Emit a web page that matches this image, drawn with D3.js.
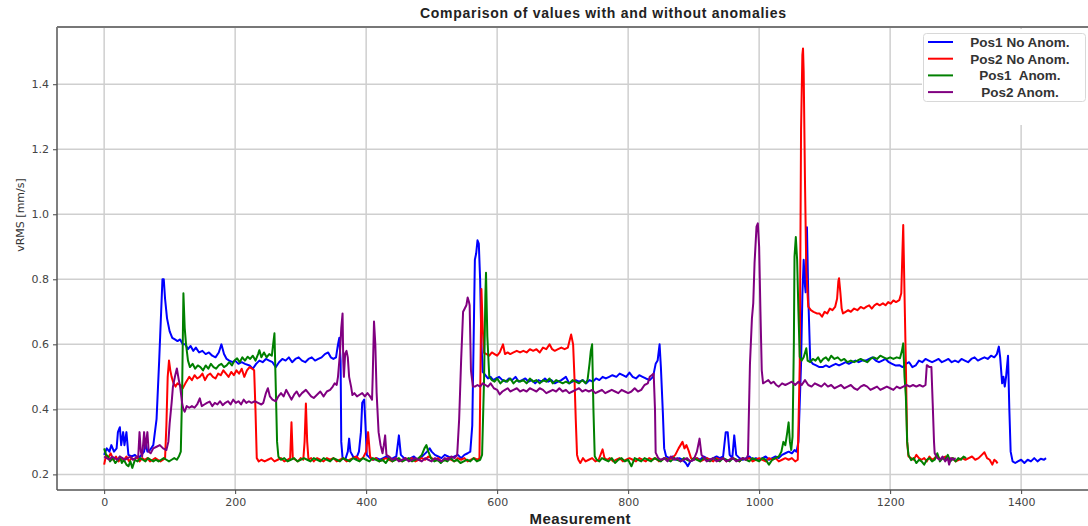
<!DOCTYPE html>
<html>
<head>
<meta charset="utf-8">
<script src="https://cdn.jsdelivr.net/npm/d3@7"></script>
<style>
  body { margin: 0; background: #fff; }
  svg { display: block; }
  .tick text { font-family: "DejaVu Sans", sans-serif; font-size: 11px; fill: #444; }
  .tick line { stroke: #444; }
  .domain { display: none; }
</style>
</head>
<body>
<div id="chart"></div>
<script>
const pos1NoAnom = [[0,0.26],[4,0.28],[8,0.27],[11,0.29],[15,0.27],[19,0.28],[21,0.33],[24,0.345],[26,0.29],[29,0.33],[31,0.29],[34,0.33],[37,0.26],[42,0.255],[47,0.26],[52,0.25],[57,0.26],[61,0.27],[63,0.3],[66,0.27],[70,0.275],[75,0.29],[80,0.37],[84,0.55],[87,0.7],[89,0.8],[91,0.8],[93,0.74],[96,0.68],[100,0.64],[104,0.62],[108,0.615],[112,0.61],[116,0.615],[120,0.6],[124,0.6],[128,0.585],[132,0.595],[136,0.58],[140,0.59],[145,0.575],[150,0.58],[155,0.57],[160,0.575],[165,0.565],[170,0.56],[175,0.575],[179,0.6],[183,0.57],[187,0.555],[191,0.55],[196,0.545],[200,0.55],[205,0.54],[210,0.545],[215,0.54],[222,0.535],[227,0.525],[232,0.54],[237,0.55],[242,0.545],[247,0.555],[252,0.55],[257,0.545],[262,0.53],[267,0.545],[272,0.555],[277,0.55],[282,0.56],[287,0.545],[292,0.555],[297,0.56],[302,0.55],[307,0.545],[312,0.555],[317,0.56],[322,0.55],[327,0.555],[332,0.56],[337,0.57],[342,0.575],[346,0.56],[350,0.555],[354,0.56],[357,0.6],[359,0.62],[361,0.55],[362,0.3],[364,0.25],[368,0.245],[372,0.27],[374,0.31],[376,0.27],[380,0.255],[385,0.25],[389,0.27],[392,0.33],[394,0.42],[397,0.43],[399,0.35],[401,0.26],[406,0.25],[411,0.245],[416,0.25],[421,0.245],[426,0.25],[431,0.255],[436,0.245],[441,0.25],[446,0.255],[450,0.32],[453,0.26],[458,0.25],[463,0.245],[468,0.25],[473,0.255],[478,0.245],[483,0.25],[488,0.26],[493,0.27],[497,0.28],[500,0.27],[505,0.26],[510,0.255],[515,0.25],[520,0.26],[525,0.255],[530,0.25],[535,0.255],[540,0.26],[545,0.25],[550,0.26],[555,0.265],[559,0.27],[562,0.35],[564,0.6],[566,0.86],[568,0.88],[570,0.92],[572,0.91],[574,0.8],[576,0.6],[578,0.515],[582,0.505],[586,0.495],[590,0.5],[594,0.49],[598,0.495],[603,0.5],[608,0.49],[613,0.485],[618,0.495],[623,0.49],[628,0.5],[633,0.485],[638,0.49],[643,0.495],[648,0.485],[653,0.49],[658,0.48],[663,0.49],[668,0.485],[673,0.495],[678,0.485],[683,0.49],[688,0.48],[693,0.485],[698,0.49],[705,0.5],[710,0.48],[715,0.485],[720,0.49],[725,0.485],[731,0.49],[736,0.48],[741,0.49],[746,0.485],[751,0.495],[756,0.49],[761,0.5],[766,0.495],[771,0.5],[776,0.505],[782,0.5],[787,0.51],[792,0.505],[797,0.5],[802,0.513],[807,0.5],[812,0.495],[817,0.505],[822,0.5],[827,0.495],[833,0.49],[838,0.5],[842,0.54],[845,0.55],[848,0.6],[850,0.53],[853,0.39],[855,0.28],[858,0.255],[863,0.25],[868,0.255],[873,0.245],[878,0.25],[883,0.245],[888,0.235],[891,0.225],[895,0.24],[900,0.245],[905,0.25],[910,0.245],[915,0.255],[920,0.25],[925,0.245],[930,0.25],[935,0.255],[940,0.25],[945,0.255],[949,0.33],[952,0.33],[955,0.26],[959,0.25],[962,0.32],[965,0.26],[970,0.25],[975,0.245],[980,0.25],[985,0.255],[990,0.245],[995,0.25],[1000,0.245],[1005,0.25],[1010,0.255],[1015,0.245],[1020,0.25],[1025,0.255],[1030,0.25],[1035,0.26],[1040,0.265],[1045,0.27],[1050,0.265],[1054,0.275],[1057,0.27],[1060,0.3],[1064,0.54],[1066,0.75],[1068,0.86],[1070,0.78],[1071,0.76],[1073,0.96],[1075,0.75],[1078,0.55],[1082,0.54],[1087,0.535],[1092,0.53],[1097,0.53],[1102,0.535],[1107,0.53],[1112,0.535],[1117,0.54],[1122,0.535],[1127,0.54],[1132,0.545],[1137,0.54],[1142,0.545],[1147,0.55],[1152,0.545],[1157,0.55],[1163,0.55],[1168,0.555],[1173,0.56],[1178,0.55],[1183,0.545],[1188,0.55],[1193,0.555],[1198,0.545],[1203,0.54],[1208,0.535],[1214,0.536],[1219,0.53],[1224,0.54],[1229,0.545],[1234,0.53],[1239,0.535],[1244,0.55],[1249,0.545],[1254,0.555],[1259,0.55],[1264,0.545],[1269,0.55],[1274,0.555],[1279,0.545],[1284,0.55],[1289,0.555],[1294,0.545],[1299,0.55],[1304,0.545],[1309,0.555],[1314,0.55],[1319,0.545],[1324,0.555],[1329,0.56],[1334,0.55],[1339,0.555],[1344,0.56],[1349,0.555],[1354,0.565],[1359,0.56],[1363,0.57],[1366,0.593],[1368,0.56],[1371,0.48],[1373,0.5],[1375,0.47],[1377,0.5],[1380,0.565],[1382,0.4],[1384,0.27],[1387,0.24],[1391,0.235],[1395,0.24],[1400,0.245],[1405,0.235],[1410,0.245],[1415,0.24],[1420,0.25],[1425,0.24],[1430,0.248],[1435,0.245],[1438,0.25]];

const pos2NoAnom = [[0,0.23],[3,0.26],[6,0.25],[10,0.265],[14,0.245],[18,0.255],[22,0.24],[26,0.25],[30,0.245],[34,0.255],[38,0.24],[42,0.25],[46,0.245],[50,0.255],[54,0.24],[58,0.25],[62,0.245],[66,0.25],[70,0.24],[74,0.245],[78,0.25],[82,0.245],[86,0.24],[90,0.245],[93,0.25],[95,0.35],[97,0.5],[99,0.55],[101,0.52],[103,0.5],[106,0.48],[109,0.47],[112,0.48],[116,0.475],[120,0.465],[124,0.48],[127,0.49],[130,0.5],[134,0.49],[138,0.505],[142,0.495],[146,0.5],[150,0.51],[154,0.49],[158,0.505],[162,0.51],[166,0.5],[170,0.495],[174,0.51],[178,0.505],[182,0.52],[186,0.51],[190,0.5],[194,0.515],[198,0.505],[202,0.52],[206,0.51],[210,0.525],[214,0.5],[218,0.52],[222,0.53],[226,0.525],[229,0.52],[231,0.4],[233,0.25],[236,0.24],[240,0.245],[245,0.24],[250,0.245],[255,0.25],[260,0.24],[265,0.245],[270,0.25],[275,0.24],[280,0.245],[284,0.25],[286,0.36],[288,0.25],[292,0.245],[296,0.24],[300,0.25],[304,0.245],[306,0.3],[308,0.418],[310,0.3],[312,0.245],[316,0.25],[320,0.24],[325,0.25],[330,0.245],[335,0.24],[340,0.25],[345,0.245],[350,0.25],[355,0.24],[360,0.245],[365,0.25],[370,0.24],[375,0.245],[380,0.25],[385,0.255],[390,0.245],[395,0.25],[400,0.27],[403,0.33],[406,0.255],[410,0.245],[415,0.25],[420,0.24],[425,0.245],[430,0.25],[435,0.245],[440,0.24],[445,0.25],[450,0.245],[455,0.24],[460,0.25],[465,0.245],[470,0.25],[475,0.24],[480,0.245],[485,0.25],[490,0.245],[495,0.255],[500,0.25],[505,0.245],[510,0.25],[515,0.24],[520,0.245],[525,0.25],[530,0.245],[535,0.24],[540,0.25],[545,0.245],[550,0.25],[555,0.24],[560,0.245],[565,0.25],[570,0.245],[573,0.25],[575,0.6],[576,0.77],[578,0.65],[580,0.574],[584,0.57],[588,0.565],[592,0.575],[596,0.57],[600,0.565],[604,0.575],[609,0.6],[612,0.57],[616,0.575],[620,0.57],[625,0.575],[630,0.58],[635,0.575],[640,0.58],[645,0.575],[650,0.585],[655,0.58],[660,0.585],[665,0.575],[670,0.59],[675,0.585],[680,0.6],[684,0.585],[688,0.58],[693,0.585],[698,0.59],[703,0.585],[708,0.59],[711,0.615],[713,0.63],[716,0.6],[718,0.5],[720,0.37],[722,0.26],[724,0.245],[727,0.235],[731,0.25],[735,0.24],[740,0.245],[745,0.25],[750,0.24],[755,0.245],[761,0.277],[764,0.25],[768,0.245],[772,0.25],[777,0.24],[782,0.245],[787,0.25],[792,0.24],[797,0.245],[802,0.25],[807,0.245],[812,0.24],[817,0.25],[822,0.245],[827,0.24],[832,0.25],[837,0.245],[842,0.25],[847,0.24],[852,0.245],[857,0.25],[862,0.245],[867,0.25],[872,0.26],[877,0.28],[880,0.29],[883,0.3],[886,0.28],[889,0.29],[892,0.275],[896,0.25],[900,0.245],[905,0.25],[910,0.24],[915,0.245],[920,0.25],[925,0.245],[930,0.24],[935,0.25],[940,0.245],[945,0.25],[950,0.24],[955,0.245],[960,0.25],[965,0.245],[970,0.24],[975,0.25],[980,0.245],[985,0.25],[990,0.24],[995,0.245],[1000,0.25],[1005,0.245],[1010,0.24],[1015,0.25],[1020,0.245],[1025,0.25],[1030,0.24],[1035,0.245],[1040,0.25],[1045,0.245],[1050,0.25],[1055,0.24],[1059,0.245],[1062,0.54],[1064,1.26],[1066,1.49],[1067,1.51],[1068,1.44],[1070,1.1],[1072,0.83],[1075,0.716],[1079,0.705],[1083,0.7],[1088,0.695],[1092,0.695],[1096,0.685],[1100,0.7],[1104,0.695],[1108,0.71],[1112,0.705],[1116,0.715],[1119,0.74],[1121,0.795],[1122,0.803],[1124,0.76],[1126,0.71],[1128,0.695],[1132,0.7],[1136,0.705],[1140,0.7],[1145,0.71],[1150,0.705],[1155,0.715],[1160,0.71],[1164,0.716],[1168,0.72],[1172,0.71],[1176,0.72],[1180,0.725],[1184,0.72],[1189,0.726],[1193,0.72],[1197,0.73],[1201,0.725],[1205,0.735],[1209,0.73],[1214,0.736],[1217,0.757],[1219,0.9],[1220,0.967],[1222,0.75],[1224,0.54],[1226,0.3],[1228,0.255],[1232,0.25],[1236,0.245],[1240,0.26],[1244,0.25],[1248,0.245],[1252,0.25],[1256,0.24],[1260,0.255],[1264,0.245],[1268,0.25],[1272,0.26],[1276,0.245],[1280,0.25],[1285,0.255],[1290,0.245],[1295,0.25],[1300,0.24],[1305,0.245],[1310,0.25],[1315,0.245],[1320,0.25],[1325,0.255],[1330,0.245],[1335,0.25],[1340,0.26],[1344,0.268],[1348,0.25],[1352,0.245],[1356,0.23],[1359,0.245],[1362,0.24],[1364,0.234]];

const pos1Anom = [[0,0.28],[3,0.26],[6,0.255],[9,0.24],[13,0.25],[17,0.235],[21,0.245],[24,0.255],[27,0.235],[30,0.245],[34,0.23],[37,0.225],[40,0.24],[43,0.22],[47,0.245],[51,0.24],[55,0.25],[59,0.245],[63,0.24],[67,0.25],[71,0.245],[75,0.24],[79,0.245],[83,0.24],[87,0.245],[91,0.25],[95,0.245],[99,0.24],[103,0.245],[107,0.25],[111,0.245],[114,0.255],[117,0.27],[119,0.45],[121,0.757],[123,0.65],[125,0.6],[128,0.55],[131,0.53],[135,0.54],[139,0.525],[143,0.535],[147,0.53],[151,0.52],[155,0.535],[159,0.525],[163,0.54],[167,0.53],[171,0.525],[175,0.535],[179,0.54],[183,0.53],[187,0.535],[191,0.545],[195,0.535],[199,0.55],[203,0.557],[207,0.545],[211,0.56],[215,0.55],[219,0.562],[223,0.555],[227,0.565],[231,0.55],[235,0.57],[237,0.582],[240,0.56],[244,0.575],[248,0.56],[252,0.57],[256,0.565],[258,0.6],[260,0.634],[262,0.47],[264,0.3],[266,0.255],[270,0.245],[275,0.25],[280,0.24],[285,0.245],[290,0.25],[295,0.24],[300,0.245],[305,0.25],[310,0.245],[315,0.24],[320,0.25],[325,0.245],[330,0.24],[335,0.25],[340,0.245],[345,0.24],[350,0.25],[355,0.245],[360,0.24],[365,0.25],[370,0.245],[375,0.24],[380,0.25],[385,0.245],[390,0.24],[395,0.25],[400,0.245],[405,0.24],[410,0.25],[415,0.245],[420,0.24],[425,0.245],[430,0.235],[435,0.25],[440,0.24],[445,0.245],[450,0.25],[455,0.24],[460,0.245],[465,0.25],[470,0.24],[475,0.245],[480,0.25],[485,0.26],[489,0.28],[492,0.29],[495,0.27],[499,0.25],[504,0.24],[509,0.245],[514,0.235],[519,0.245],[524,0.24],[529,0.25],[534,0.24],[539,0.245],[544,0.235],[549,0.24],[554,0.245],[559,0.24],[564,0.25],[569,0.24],[574,0.245],[577,0.26],[580,0.49],[582,0.75],[583,0.82],[585,0.625],[588,0.5],[592,0.49],[596,0.485],[600,0.495],[605,0.48],[610,0.49],[615,0.485],[620,0.495],[625,0.48],[630,0.49],[635,0.485],[640,0.49],[645,0.48],[650,0.495],[655,0.485],[660,0.49],[665,0.48],[670,0.49],[675,0.485],[680,0.495],[685,0.48],[690,0.49],[695,0.485],[700,0.48],[705,0.485],[710,0.48],[715,0.49],[720,0.485],[725,0.48],[730,0.49],[735,0.48],[738,0.49],[741,0.54],[743,0.58],[745,0.6],[747,0.4],[749,0.256],[752,0.245],[756,0.24],[760,0.25],[765,0.245],[770,0.24],[775,0.25],[780,0.235],[785,0.245],[790,0.25],[795,0.24],[800,0.245],[805,0.225],[810,0.25],[815,0.245],[820,0.24],[825,0.25],[830,0.245],[835,0.24],[840,0.25],[845,0.245],[850,0.24],[855,0.25],[860,0.245],[865,0.24],[870,0.25],[875,0.245],[880,0.24],[885,0.25],[890,0.245],[895,0.24],[900,0.25],[905,0.245],[910,0.24],[915,0.25],[920,0.245],[925,0.24],[930,0.25],[935,0.245],[940,0.24],[945,0.25],[950,0.245],[955,0.24],[960,0.25],[965,0.245],[970,0.24],[975,0.25],[980,0.245],[985,0.24],[990,0.25],[995,0.245],[1000,0.24],[1005,0.25],[1010,0.245],[1015,0.23],[1020,0.245],[1025,0.25],[1030,0.255],[1034,0.27],[1037,0.3],[1040,0.29],[1043,0.33],[1045,0.36],[1047,0.3],[1049,0.275],[1051,0.316],[1053,0.6],[1054,0.87],[1056,0.93],[1058,0.86],[1060,0.7],[1062,0.562],[1065,0.55],[1068,0.56],[1072,0.588],[1074,0.55],[1078,0.545],[1082,0.555],[1086,0.55],[1090,0.56],[1094,0.545],[1098,0.555],[1102,0.56],[1106,0.55],[1110,0.565],[1115,0.555],[1120,0.56],[1125,0.55],[1130,0.555],[1135,0.545],[1140,0.55],[1145,0.545],[1150,0.55],[1155,0.555],[1160,0.55],[1165,0.545],[1170,0.555],[1175,0.56],[1180,0.555],[1185,0.565],[1190,0.56],[1195,0.555],[1200,0.56],[1205,0.555],[1210,0.56],[1215,0.557],[1218,0.58],[1220,0.603],[1222,0.5],[1224,0.44],[1226,0.3],[1228,0.26],[1232,0.244],[1236,0.25],[1240,0.235],[1244,0.245],[1248,0.24],[1252,0.23],[1256,0.245],[1260,0.25],[1264,0.24],[1268,0.245],[1272,0.265],[1276,0.24],[1280,0.25],[1284,0.245],[1288,0.26],[1292,0.24],[1296,0.25],[1300,0.24],[1304,0.25],[1308,0.245],[1312,0.255],[1316,0.25]];

const pos2Anom = [[0,0.255],[4,0.25],[8,0.245],[12,0.255],[16,0.25],[20,0.245],[24,0.255],[28,0.25],[32,0.245],[36,0.25],[40,0.255],[44,0.245],[48,0.25],[52,0.255],[54,0.33],[56,0.27],[58,0.255],[61,0.33],[63,0.28],[66,0.33],[68,0.27],[71,0.265],[75,0.28],[80,0.285],[85,0.29],[90,0.28],[95,0.275],[98,0.3],[100,0.357],[103,0.42],[105,0.47],[108,0.5],[111,0.526],[114,0.49],[116,0.47],[119,0.42],[121,0.4],[123,0.393],[126,0.41],[130,0.405],[134,0.41],[138,0.405],[142,0.415],[146,0.434],[149,0.41],[153,0.415],[157,0.42],[161,0.424],[165,0.41],[169,0.42],[173,0.415],[177,0.425],[181,0.413],[185,0.42],[189,0.425],[193,0.415],[197,0.43],[201,0.42],[205,0.425],[209,0.415],[213,0.43],[217,0.42],[221,0.425],[225,0.42],[230,0.425],[235,0.42],[240,0.415],[243,0.42],[247,0.45],[250,0.465],[253,0.44],[257,0.43],[262,0.425],[266,0.44],[270,0.45],[274,0.44],[278,0.46],[282,0.445],[286,0.43],[290,0.445],[294,0.455],[298,0.44],[302,0.45],[308,0.46],[312,0.45],[316,0.44],[320,0.435],[325,0.445],[330,0.455],[335,0.44],[340,0.455],[345,0.46],[349,0.47],[352,0.48],[355,0.475],[357,0.5],[360,0.572],[362,0.65],[364,0.695],[365,0.55],[366,0.5],[368,0.572],[370,0.58],[372,0.56],[374,0.5],[377,0.47],[379,0.444],[382,0.45],[386,0.44],[390,0.445],[394,0.45],[398,0.44],[402,0.45],[406,0.44],[409,0.43],[410,0.5],[412,0.67],[414,0.6],[416,0.45],[419,0.33],[422,0.29],[425,0.265],[427,0.29],[429,0.32],[431,0.26],[435,0.255],[440,0.245],[445,0.25],[450,0.24],[455,0.245],[460,0.25],[465,0.24],[470,0.245],[475,0.25],[480,0.245],[485,0.24],[490,0.25],[495,0.245],[500,0.24],[505,0.25],[510,0.245],[515,0.24],[520,0.25],[525,0.245],[530,0.255],[535,0.25],[539,0.26],[542,0.37],[545,0.55],[548,0.7],[550,0.708],[553,0.72],[555,0.744],[557,0.73],[558,0.72],[560,0.52],[563,0.47],[566,0.47],[570,0.475],[574,0.47],[578,0.48],[582,0.475],[586,0.47],[590,0.48],[595,0.465],[600,0.46],[604,0.446],[608,0.455],[612,0.46],[616,0.465],[620,0.455],[625,0.46],[630,0.465],[635,0.455],[640,0.46],[645,0.455],[650,0.465],[655,0.46],[660,0.455],[665,0.465],[670,0.46],[675,0.45],[680,0.455],[685,0.46],[690,0.455],[695,0.465],[700,0.455],[705,0.46],[710,0.45],[715,0.455],[720,0.46],[725,0.465],[730,0.455],[735,0.46],[740,0.455],[745,0.46],[750,0.45],[755,0.455],[760,0.46],[765,0.45],[770,0.455],[775,0.46],[780,0.455],[785,0.45],[790,0.46],[795,0.455],[800,0.45],[805,0.455],[810,0.465],[815,0.455],[820,0.46],[825,0.475],[830,0.48],[833,0.5],[836,0.505],[839,0.51],[841,0.4],[842,0.267],[846,0.25],[850,0.245],[855,0.25],[860,0.24],[865,0.255],[870,0.245],[875,0.25],[880,0.24],[885,0.245],[890,0.25],[895,0.24],[900,0.245],[905,0.27],[909,0.31],[912,0.26],[916,0.25],[920,0.24],[925,0.245],[930,0.25],[935,0.24],[940,0.245],[945,0.25],[950,0.24],[955,0.245],[960,0.25],[965,0.24],[970,0.245],[975,0.25],[980,0.245],[983,0.26],[986,0.54],[989,0.68],[991,0.726],[993,0.85],[996,0.962],[998,0.972],[1000,0.9],[1002,0.7],[1004,0.52],[1006,0.48],[1010,0.485],[1014,0.49],[1018,0.48],[1022,0.485],[1026,0.475],[1030,0.47],[1035,0.48],[1040,0.475],[1045,0.48],[1050,0.485],[1055,0.475],[1060,0.485],[1065,0.475],[1070,0.49],[1075,0.475],[1080,0.47],[1085,0.48],[1090,0.475],[1095,0.47],[1100,0.48],[1105,0.47],[1110,0.475],[1115,0.465],[1120,0.47],[1125,0.475],[1130,0.465],[1135,0.47],[1140,0.475],[1145,0.465],[1150,0.46],[1155,0.47],[1160,0.475],[1165,0.47],[1170,0.46],[1175,0.465],[1180,0.47],[1185,0.46],[1190,0.465],[1195,0.47],[1200,0.465],[1205,0.46],[1210,0.47],[1215,0.465],[1220,0.47],[1225,0.475],[1230,0.47],[1235,0.475],[1240,0.47],[1245,0.475],[1250,0.47],[1254,0.475],[1256,0.536],[1260,0.53],[1263,0.53],[1265,0.418],[1267,0.3],[1268,0.265],[1272,0.25],[1276,0.245],[1280,0.255],[1284,0.24],[1288,0.25],[1290,0.23],[1293,0.25],[1296,0.245],[1300,0.25]];

const seriesNames = ['Pos1 No Anom.', 'Pos2 No Anom.', 'Pos1  Anom.', 'Pos2 Anom.'];
const seriesColors = ['#0000ff', '#ff0000', '#008000', '#800080'];
const xTicks = [0, 200, 400, 600, 800, 1000, 1200, 1400];
const yTicks = [0.2, 0.4, 0.6, 0.8, 1.0, 1.2, 1.4];

class LineChart {

  constructor(_config, data) {
    this.config = {
      parentElement: _config.parentElement,
      containerWidth: 1088,
      containerHeight: 526,
      margin: { top: 27, right: -15, bottom: 36, left: 57 }
    };
    this.data = data;
    this.initVis();
  }

  initVis() {
    let vis = this;
    vis.width = vis.config.containerWidth - vis.config.margin.left - vis.config.margin.right;
    vis.height = vis.config.containerHeight - vis.config.margin.top - vis.config.margin.bottom;

    vis.svg = d3.select(vis.config.parentElement).append('svg')
      .attr('width', vis.config.containerWidth)
      .attr('height', vis.config.containerHeight);

    vis.chartArea = vis.svg.append('g')
      .attr('transform', `translate(${vis.config.margin.left},${vis.config.margin.top})`);

    vis.xScale = d3.scaleLinear().domain([-72, 1525]).range([0, vis.width]);
    vis.yScale = d3.scaleLinear().domain([0.152, 1.576]).range([vis.height, 0]);

    vis.svg.append('text')
      .attr('x', 603)
      .attr('y', 18)
      .attr('text-anchor', 'middle')
      .attr('textLength', 366)
      .style('font-family', '"Liberation Sans Narrow", "Liberation Sans", Arial, sans-serif')
      .style('font-weight', 'bold')
      .style('font-size', '14px')
      .style('fill', '#222')
      .text('Comparison of values with and without anomalies');

    vis.svg.append('text')
      .attr('x', 580)
      .attr('y', 524)
      .attr('text-anchor', 'middle')
      .attr('textLength', 101)
      .style('font-family', '"Liberation Sans Narrow", "Liberation Sans", Arial, sans-serif')
      .style('font-weight', 'bold')
      .style('font-size', '15px')
      .style('fill', '#222')
      .text('Measurement');

    vis.svg.append('text')
      .attr('transform', 'translate(24,215) rotate(-90)')
      .attr('text-anchor', 'middle')
      .style('font-family', '"DejaVu Sans", sans-serif')
      .style('font-size', '11px')
      .style('fill', '#333')
      .text('vRMS [mm/s]');
  }

  updateVis() {
    let vis = this;
    vis.line = d3.line()
      .x(d => vis.xScale(d[0]))
      .y(d => vis.yScale(d[1]));
    vis.renderVis();
  }

  renderVis() {
    let vis = this;

    vis.chartArea.selectAll('.grid-line-y')
      .data(yTicks)
      .join('line')
      .attr('class', 'grid-line-y')
      .attr('x1', 0)
      .attr('x2', vis.width)
      .attr('y1', d => vis.yScale(d))
      .attr('y2', d => vis.yScale(d))
      .attr('stroke', '#cfcfcf')
      .attr('stroke-width', 1.5);

    vis.chartArea.selectAll('.grid-line-x')
      .data(xTicks)
      .join('line')
      .attr('class', 'grid-line-x')
      .attr('x1', d => vis.xScale(d))
      .attr('x2', d => vis.xScale(d))
      .attr('y1', 0)
      .attr('y2', vis.height)
      .attr('stroke', '#cfcfcf')
      .attr('stroke-width', 1.5);

    vis.chartArea.selectAll('.series')
      .data(vis.data)
      .join('path')
      .attr('class', 'series')
      .attr('fill', 'none')
      .attr('stroke', (d, i) => seriesColors[i])
      .attr('stroke-width', 2)
      .attr('stroke-linejoin', 'round')
      .attr('d', d => vis.line(d));

    // white patch behind the legend (covers grid like in the source image)
    vis.svg.append('rect')
      .attr('x', 922).attr('y', 29)
      .attr('width', 170).attr('height', 96)
      .attr('fill', '#fff');

    const legend = vis.svg.append('g').attr('class', 'legend');
    legend.append('rect')
      .attr('x', 923.5).attr('y', 33.5)
      .attr('width', 162).attr('height', 68)
      .attr('rx', 3)
      .attr('fill', '#fff')
      .attr('stroke', '#d8d8d8');

    const items = legend.selectAll('.item')
      .data(seriesNames)
      .join('g')
      .attr('class', 'item')
      .attr('transform', (d, i) => `translate(0,${42 + i * 16.7})`);

    items.append('line')
      .attr('x1', 928).attr('x2', 953)
      .attr('stroke', (d, i) => seriesColors[i])
      .attr('stroke-width', 2);

    items.append('text')
      .attr('x', 1020)
      .attr('y', 5)
      .attr('text-anchor', 'middle')
      .style('font-family', '"Liberation Sans", Arial, sans-serif')
      .style('font-weight', 'bold')
      .style('font-size', '13.5px')
      .style('fill', '#333')
      .style('white-space', 'pre')
      .text(d => d);

    vis.chartArea.append('g')
      .attr('transform', `translate(0,${vis.height})`)
      .call(d3.axisBottom(vis.xScale).tickValues(xTicks).tickSize(4).tickPadding(4).tickFormat(d3.format('d')));

    vis.chartArea.append('g')
      .call(d3.axisLeft(vis.yScale).tickValues(yTicks).tickSize(4).tickPadding(4).tickFormat(d3.format('.1f')));

    // spines
    vis.chartArea.append('line')
      .attr('x1', 0).attr('x2', 0).attr('y1', 0).attr('y2', vis.height)
      .attr('stroke', '#555').attr('stroke-width', 1.5);
    vis.chartArea.append('line')
      .attr('x1', 0).attr('x2', vis.width).attr('y1', vis.height).attr('y2', vis.height)
      .attr('stroke', '#555').attr('stroke-width', 1.5);
    vis.chartArea.append('line')
      .attr('x1', 0).attr('x2', vis.width).attr('y1', 0).attr('y2', 0)
      .attr('stroke', '#777').attr('stroke-width', 2);
  }
}

const chart = new LineChart({ parentElement: '#chart' }, [pos1NoAnom, pos2NoAnom, pos1Anom, pos2Anom]);
chart.updateVis();
</script>
</body>
</html>
